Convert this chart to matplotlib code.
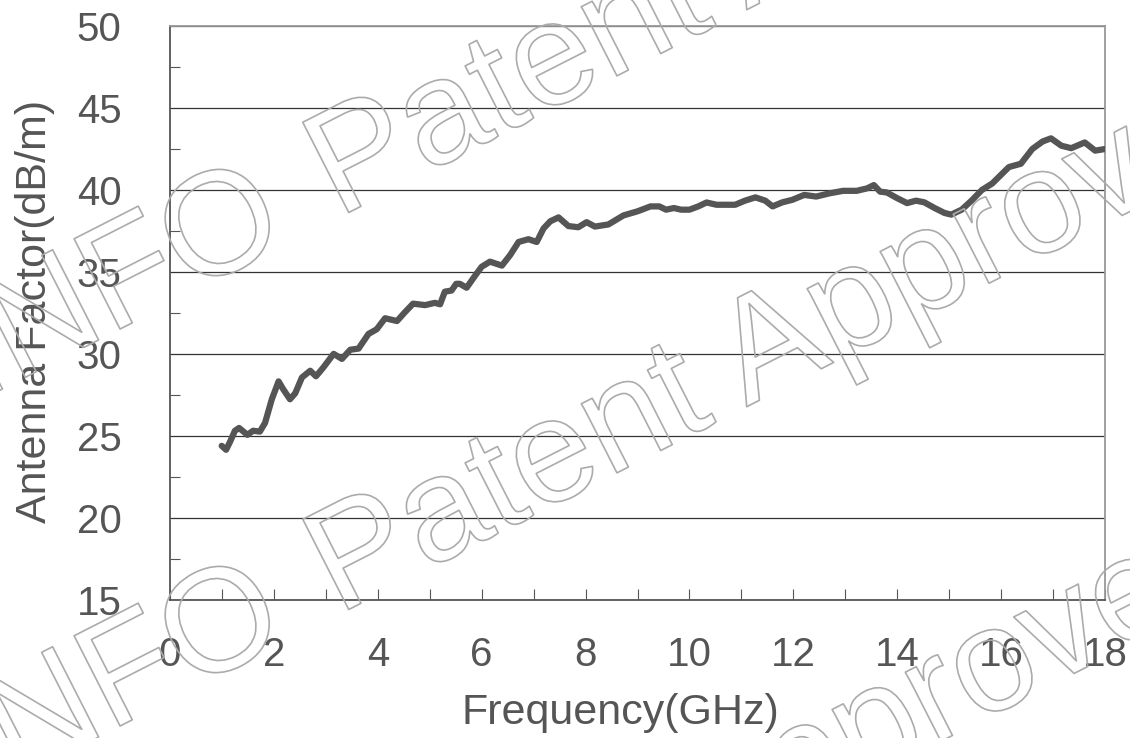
import matplotlib
matplotlib.use('Agg')
import matplotlib.pyplot as plt
import matplotlib.patheffects as pe
from matplotlib.ticker import MultipleLocator

plt.rcParams['font.family'] = ['Liberation Sans', 'DejaVu Sans']

# 读取的曲线数据 (GHz, dB/m)
freq = [0.995, 1.08, 1.155, 1.25, 1.33, 1.49, 1.6, 1.73, 1.83, 1.96,
        2.09, 2.18, 2.31, 2.41, 2.54, 2.7, 2.81, 2.95, 3.15, 3.31,
        3.47, 3.63, 3.82, 3.98, 4.14, 4.37, 4.52, 4.68, 4.91, 5.1,
        5.2, 5.29, 5.42, 5.51, 5.58, 5.71, 5.87, 6.0, 6.16, 6.39,
        6.55, 6.71, 6.9, 7.06, 7.19, 7.32, 7.48, 7.67, 7.86, 8.02,
        8.18, 8.44, 8.73, 9.0, 9.25, 9.42, 9.55, 9.7, 9.84, 10.0,
        10.17, 10.33, 10.52, 10.69, 10.88, 11.07, 11.27, 11.46, 11.6, 11.79,
        11.98, 12.21, 12.44, 12.7, 12.96, 13.22, 13.42, 13.55, 13.67, 13.8,
        14.0, 14.19, 14.36, 14.52, 14.72, 14.91, 15.04, 15.24, 15.43, 15.63,
        15.83, 15.99, 16.15, 16.38, 16.6, 16.8, 16.96, 17.16, 17.35, 17.61,
        17.81, 18.0]
af = [24.4, 24.16, 24.64, 25.32, 25.49, 25.07, 25.32, 25.27, 25.8, 27.24,
      28.33, 27.85, 27.24, 27.6, 28.57, 28.98, 28.64, 29.17, 30.01, 29.7,
      30.26, 30.33, 31.22, 31.51, 32.18, 32.01, 32.54, 33.07, 32.98, 33.12,
      33.03, 33.8, 33.87, 34.28, 34.28, 34.04, 34.76, 35.32, 35.63, 35.39,
      36.04, 36.83, 37.0, 36.83, 37.65, 38.09, 38.33, 37.8, 37.73, 38.04,
      37.77, 37.9, 38.45, 38.7, 39.0, 39.0, 38.8, 38.9, 38.8, 38.8,
      39.0, 39.24, 39.1, 39.1, 39.1, 39.35, 39.55, 39.35, 39.0, 39.25,
      39.4, 39.7, 39.6, 39.8, 39.95, 39.95, 40.1, 40.3, 39.9, 39.85,
      39.5, 39.2, 39.35, 39.25, 38.9, 38.6, 38.5, 38.8, 39.35, 40.0,
      40.4, 40.9, 41.4, 41.6, 42.5, 42.96, 43.15, 42.7, 42.55, 42.9,
      42.4, 42.5]

x_ticks = [0, 2, 4, 6, 8, 10, 12, 14, 16, 18]
y_ticks = [15, 20, 25, 30, 35, 40, 45, 50]

W, H = 1130, 738
fig = plt.figure(figsize=(W / 100, H / 100), dpi=100)
ax = fig.add_axes([170 / W, 1 - 600 / H, 935 / W, 574 / H])

txt = '#555555'
ax.plot(freq, af, color='#555555', lw=4.5, solid_joinstyle='round',
        solid_capstyle='round', zorder=3)

ax.set_xlim(0, 18)
ax.set_ylim(15, 50)
ax.set_xticks(x_ticks)
ax.set_yticks(y_ticks)
ax.xaxis.set_minor_locator(MultipleLocator(1))
ax.yaxis.set_minor_locator(MultipleLocator(2.5))
ax.grid(axis='y', which='major', color='#333333', lw=0.9)
ax.set_axisbelow(True)

ax.tick_params(axis='x', which='both', direction='in', length=8, width=0.8,
               color=txt, labelsize=29, labelcolor=txt, pad=26)
ax.tick_params(axis='y', which='major', direction='in', length=0,
               labelsize=29, labelcolor=txt, pad=35)
ax.tick_params(axis='y', which='minor', direction='in', length=7, width=0.8,
               color=txt)

for side in ['left', 'bottom']:
    ax.spines[side].set_color('#555555')
    ax.spines[side].set_linewidth(1.3)
for side in ['top', 'right']:
    ax.spines[side].set_color('#999999')
    ax.spines[side].set_linewidth(1.3)

ax.set_xlabel('Frequency(GHz)', fontsize=31, color=txt)
ax.xaxis.set_label_coords(0.482, -0.162)
ax.set_ylabel('Antenna Factor(dB/m)', fontsize=31, color=txt)
ax.yaxis.set_label_coords(-0.123, 0.503)

# 水印 (只描边)
for px, py in [(338, 218), (338, 615), (290, 1073)]:
    for s, ha, dx in [('INFO', 'right', -52), ('Patent Approved', 'left', 0)]:
        fig.text((px + dx * 0.891) / W, 1 - (py - dx * 0.454) / H, s,
                 rotation=27, rotation_mode='anchor', ha=ha, va='baseline',
                 fontsize=106, color=(1, 1, 1, 0),
                 path_effects=[pe.Stroke(linewidth=1.2, foreground='#ababab')])

fig.savefig('out.png', dpi=100)
